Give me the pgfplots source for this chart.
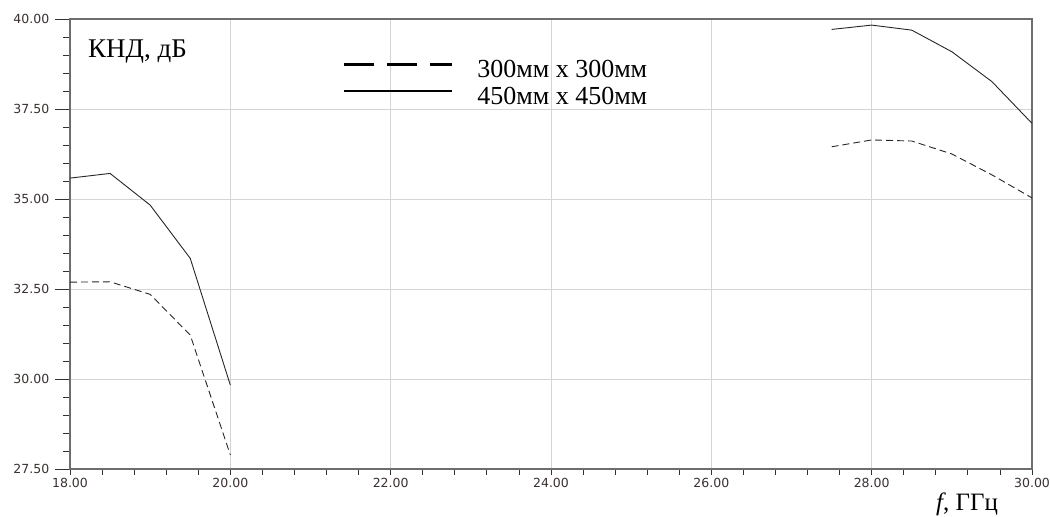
\documentclass[border=0pt]{standalone}
\usepackage{fontspec}
\setmainfont{Liberation Serif}
\newfontfamily\dejavu{DejaVu Sans}
\usepackage{pgfplots}
\pgfplotsset{compat=1.18}
\definecolor{ticklab}{HTML}{3A3030}
\definecolor{gridc}{HTML}{D4D4D4}
\definecolor{axc}{HTML}{6E6E6E}
\begin{document}
\begin{tikzpicture}[x=1bp,y=1bp]
\useasboundingbox (0,0) rectangle (1050,517);
\begin{axis}[
  at={(70bp,48bp)}, anchor=south west,
  scale only axis, width=962bp, height=450bp,
  xmin=18, xmax=30, ymin=27.5, ymax=40,
  xtick={18,20,...,30}, ytick={27.5,30,32.5,35,37.5,40},
  minor x tick num=4, minor y tick num=4,
  tick align=outside, xtick pos=lower, ytick pos=left,
  xtick style={/pgfplots/major tick length=6bp, /pgfplots/minor tick length=6bp, draw=black!80, line width=0.8bp},
  ytick style={/pgfplots/major tick length=15bp, /pgfplots/minor tick length=7bp, draw=black!80, line width=0.8bp},
  xmajorgrids, ymajorgrids,
  major grid style={draw=gridc, line width=0.9bp},
  axis line style={draw=axc, line width=1.5bp},
  /pgf/number format/.cd, fixed, fixed zerofill, precision=2, assume math mode=true,
  /pgfplots/.cd,
  xticklabel style={font=\dejavu\fontsize{12.5bp}{14bp}\selectfont, text=ticklab, yshift=-1bp},
  yticklabel style={font=\dejavu\fontsize{12.5bp}{14bp}\selectfont, text=ticklab, xshift=-13bp},
  legend image code/.code={\draw[#1] (0bp,4bp) -- (108bp,4bp);},
  legend style={draw=none, fill=none, at={(axis description cs:0.2827,0.911)}, anchor=north west,
    inner sep=0pt, row sep=9bp, column sep=24bp,
    font=\fontsize{26bp}{28bp}\selectfont,
    nodes={inner sep=0pt, text height=18bp, text depth=0bp}},
  legend cell align=left,
]
\addlegendimage{black, line width=3.2bp, dash pattern=on 30bp off 13bp}
\addlegendentry{300мм х 300мм}
\addlegendimage{black, line width=2.2bp}
\addlegendentry{450мм х 450мм}

\addplot[forget plot, black!85, line width=0.9bp] coordinates {(18,35.58) (18.5,35.71) (19,34.83) (19.5,33.35) (20,29.83)};
\addplot[forget plot, black!85, line width=0.9bp] coordinates {(27.5,39.71) (28,39.83) (28.5,39.69) (29,39.09) (29.5,38.26) (30,37.10)};
\addplot[forget plot, black!85, line width=0.9bp, dash pattern=on 7bp off 4bp] coordinates {(18,32.69) (18.5,32.70) (19,32.35) (19.5,31.22) (20,27.89)};
\addplot[forget plot, black!85, line width=0.9bp, dash pattern=on 7bp off 4bp] coordinates {(27.5,36.45) (28,36.64) (28.5,36.61) (29,36.25) (29.5,35.67) (30,35.03)};
\end{axis}
\node[anchor=base west, inner sep=0pt, font=\fontsize{27bp}{29bp}\selectfont] at (88,459) {КНД, дБ};
\node[anchor=base west, inner sep=0pt, font=\fontsize{25bp}{27bp}\selectfont] at (936,6) {\textit{f}, ГГц};
\end{tikzpicture}
\end{document}
